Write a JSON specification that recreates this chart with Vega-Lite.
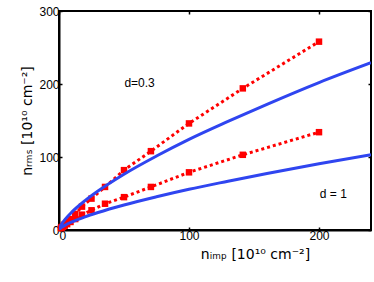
{
  "$schema": "https://vega.github.io/schema/vega-lite/v6.json",
  "width": 312,
  "height": 219,
  "autosize": {"type": "none"},
  "padding": {"left": 59, "top": 11, "right": 3, "bottom": 52},
  "background": "white",
  "config": {
    "view": {"stroke": "black", "strokeWidth": 2},
    "font": "Liberation Sans",
    "axis": {"grid": false, "domainColor": "black", "domainWidth": 2, "tickColor": "black", "tickSize": -3, "tickWidth": 1.5, "labelFontSize": 12, "labelColor": "black", "titleColor": "black", "titleFontWeight": "normal", "titleFontSize": 14, "labelFont": "Liberation Sans", "titleFont": "DejaVu Sans"}
  },
  "datasets": {
    "red": [
      {"x": 200, "y": 258, "s": "a"}, {"x": 141.4, "y": 194, "s": "a"}, {"x": 100, "y": 146, "s": "a"}, {"x": 70.7, "y": 108, "s": "a"}, {"x": 50, "y": 82, "s": "a"}, {"x": 35.4, "y": 59, "s": "a"}, {"x": 25, "y": 43, "s": "a"}, {"x": 17.7, "y": 32, "s": "a"}, {"x": 12.5, "y": 22, "s": "a"}, {"x": 8.84, "y": 15, "s": "a"}, {"x": 6.25, "y": 11, "s": "a"}, {"x": 4.42, "y": 8, "s": "a"}, {"x": 3.13, "y": 5.5, "s": "a"}, {"x": 2.21, "y": 4, "s": "a"}, {"x": 1.56, "y": 3, "s": "a"},
      {"x": 200, "y": 134, "s": "b"}, {"x": 141.4, "y": 103, "s": "b"}, {"x": 100, "y": 79, "s": "b"}, {"x": 70.7, "y": 59, "s": "b"}, {"x": 50, "y": 45, "s": "b"}, {"x": 35.4, "y": 36, "s": "b"}, {"x": 25, "y": 27, "s": "b"}, {"x": 17.7, "y": 21, "s": "b"}, {"x": 12.5, "y": 15, "s": "b"}, {"x": 8.84, "y": 11, "s": "b"}, {"x": 6.25, "y": 8, "s": "b"}, {"x": 4.42, "y": 6, "s": "b"}, {"x": 3.13, "y": 4.5, "s": "b"}, {"x": 2.21, "y": 3.3, "s": "b"}, {"x": 1.56, "y": 2.5, "s": "b"}
    ],
    "blue": [
      {"x": 0, "y": 0, "s": "a"}, {"x": 1, "y": 4.9, "s": "a"}, {"x": 2, "y": 8.0, "s": "a"}, {"x": 5, "y": 15.2, "s": "a"}, {"x": 10, "y": 24.8, "s": "a"}, {"x": 20, "y": 40.2, "s": "a"}, {"x": 30, "y": 53.4, "s": "a"}, {"x": 50, "y": 76.4, "s": "a"}, {"x": 75, "y": 101.3, "s": "a"}, {"x": 100, "y": 124.1, "s": "a"}, {"x": 130, "y": 148.7, "s": "a"}, {"x": 160, "y": 172.2, "s": "a"}, {"x": 200, "y": 202, "s": "a"}, {"x": 240, "y": 229.2, "s": "a"},
      {"x": 0, "y": 0, "s": "b"}, {"x": 1, "y": 2.2, "s": "b"}, {"x": 2, "y": 3.6, "s": "b"}, {"x": 5, "y": 6.9, "s": "b"}, {"x": 10, "y": 11.1, "s": "b"}, {"x": 20, "y": 18.1, "s": "b"}, {"x": 30, "y": 24.0, "s": "b"}, {"x": 50, "y": 34.3, "s": "b"}, {"x": 75, "y": 45.5, "s": "b"}, {"x": 100, "y": 55.8, "s": "b"}, {"x": 130, "y": 66.8, "s": "b"}, {"x": 160, "y": 77.4, "s": "b"}, {"x": 200, "y": 90.8, "s": "b"}, {"x": 240, "y": 103, "s": "b"}
    ],
    "labels": [
      {"x": 62, "y": 201, "t": "d=0.3"},
      {"x": 211, "y": 50, "t": "d = 1"}
    ]
  },
  "layer": [
    {
      "data": {"name": "red"},
      "mark": {"type": "line", "color": "#ff0000", "strokeWidth": 3, "strokeDash": [3, 3], "clip": true},
      "encoding": {
        "x": {"field": "x", "type": "quantitative", "scale": {"domain": [0, 240], "nice": false}, "axis": {"values": [0, 100, 200], "title": "nᵢₘₚ [10¹⁰ cm⁻²]", "titleX": 196, "titleAlign": "center", "titlePadding": 6, "labelPadding": 3}},
        "y": {"field": "y", "type": "quantitative", "scale": {"domain": [0, 300], "nice": false}, "axis": {"values": [0, 100, 200, 300], "title": "nᵣₘₛ [10¹⁰ cm⁻²]", "titlePadding": 4, "labelPadding": 3}},
        "detail": {"field": "s"}
      }
    },
    {
      "data": {"name": "red"},
      "mark": {"type": "square", "color": "#ff0000", "opacity": 1, "size": 42, "filled": true},
      "encoding": {
        "x": {"field": "x", "type": "quantitative", "axis": null},
        "y": {"field": "y", "type": "quantitative", "axis": null}
      }
    },
    {
      "data": {"name": "blue"},
      "mark": {"type": "line", "color": "#2f45f0", "strokeWidth": 3, "interpolate": "monotone", "clip": true},
      "encoding": {
        "x": {"field": "x", "type": "quantitative", "axis": null},
        "y": {"field": "y", "type": "quantitative", "axis": null},
        "detail": {"field": "s"}
      }
    },
    {
      "data": {"name": "labels"},
      "mark": {"type": "text", "fontSize": 12, "font": "Liberation Sans", "color": "black", "align": "center", "baseline": "middle"},
      "encoding": {
        "x": {"field": "x", "type": "quantitative", "axis": null},
        "y": {"field": "y", "type": "quantitative", "axis": null},
        "text": {"field": "t"}
      }
    },
    {
      "data": {"values": [{"x": 0, "y": 0}]},
      "mark": {"type": "point", "opacity": 0},
      "encoding": {
        "x": {"field": "x", "type": "quantitative", "axis": {"orient": "top", "values": [0, 100, 200], "labels": false, "title": null, "domain": false}},
        "y": {"field": "y", "type": "quantitative", "axis": {"orient": "right", "values": [0, 100, 200, 300], "labels": false, "title": null, "domain": false}}
      }
    }
  ],
  "resolve": {"axis": {"x": "independent", "y": "independent"}}
}
